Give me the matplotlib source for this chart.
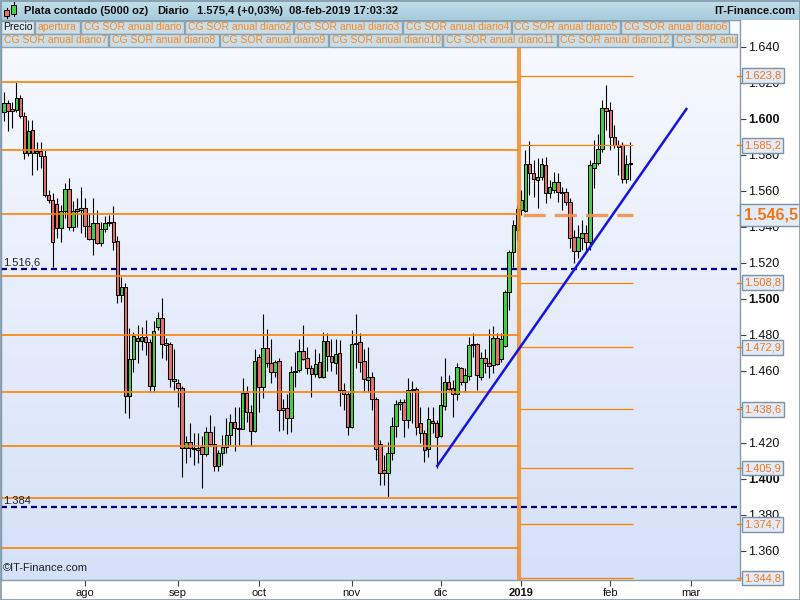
import numpy as np
import pandas as pd
import matplotlib
matplotlib.use("Agg")
import matplotlib.pyplot as plt
import matplotlib.transforms as mtrans
from matplotlib.patches import Rectangle
from matplotlib.colors import LinearSegmentedColormap

plt.rcParams['font.family'] = ['Liberation Sans', 'DejaVu Sans']
plt.rcParams['lines.scale_dashes'] = False

# ---------------- data ----------------
first_day = '2018-07-04'
holidays = ['2018-12-25', '2019-01-01']

opens = [1.6036, 1.6086, 1.6052, 1.6048, 1.6113, 1.6015, 1.5811, 1.5937, 1.5808, 1.5820,
         1.5793, 1.5576, 1.5548, 1.5524, 1.5391, 1.5487, 1.5608, 1.5397, 1.5498, 1.5493,
         1.5504, 1.5404, 1.5330, 1.5419, 1.5308, 1.5386, 1.5419, 1.5428, 1.5322, 1.5021,
         1.5063, 1.4459, 1.4663, 1.4782, 1.4767, 1.4787, 1.4761, 1.4517, 1.4844, 1.4893,
         1.4754, 1.4748, 1.4552, 1.4532, 1.4504, 1.4173, 1.4204, 1.4173, 1.4159, 1.4176,
         1.4136, 1.4258, 1.4191, 1.4072, 1.4141, 1.4175, 1.4241, 1.4313, 1.4283, 1.4274,
         1.4478, 1.4369, 1.4263, 1.4674, 1.4511, 1.4724, 1.4641, 1.4591, 1.4656, 1.4391,
         1.4391, 1.4336, 1.4591, 1.4604, 1.4711, 1.4669, 1.4617, 1.4582, 1.4647, 1.4563,
         1.4763, 1.4683, 1.4641, 1.4697, 1.4493, 1.4471, 1.4286, 1.4747, 1.4758, 1.4652,
         1.4548, 1.4567, 1.4441, 1.4191, 1.4048, 1.4030, 1.4141, 1.4293, 1.4413, 1.4428,
         1.4326, 1.4493, 1.4497, 1.4308, 1.4252, 1.4163, 1.4322, 1.4311, 1.4239, 1.4404,
         1.4535, 1.4502, 1.4471, 1.4613, 1.4535, 1.4572, 1.4743, 1.4747, 1.4567, 1.4669,
         1.4641, 1.4632, 1.4783, 1.4663, 1.4739, 1.5039, 1.5259, 1.5382, 1.5493, 1.5489,
         1.5747, 1.5697, 1.5659, 1.5678, 1.5741, 1.5586, 1.5604, 1.5650, 1.5593, 1.5591,
         1.5539, 1.5341, 1.5267, 1.5336, 1.5367, 1.5317, 1.5724, 1.5752, 1.5830, 1.6058,
         1.6048, 1.5900, 1.5854, 1.5854, 1.5663, 1.5750]
highs = [1.6150, 1.6104, 1.6094, 1.6204, 1.6132, 1.6039, 1.5993, 1.5993, 1.5872, 1.5870,
         1.5826, 1.5604, 1.5587, 1.5559, 1.5521, 1.5643, 1.5669, 1.5543, 1.5559, 1.5621,
         1.5559, 1.5476, 1.5559, 1.5493, 1.5426, 1.5459, 1.5465, 1.5515, 1.5348, 1.5121,
         1.5087, 1.4837, 1.4817, 1.4854, 1.4843, 1.4882, 1.4776, 1.4878, 1.4928, 1.5002,
         1.4782, 1.4759, 1.4720, 1.4554, 1.4515, 1.4237, 1.4311, 1.4254, 1.4256, 1.4237,
         1.4289, 1.4354, 1.4293, 1.4159, 1.4243, 1.4339, 1.4359, 1.4400, 1.4400, 1.4558,
         1.4517, 1.4409, 1.4719, 1.4693, 1.4915, 1.4830, 1.4774, 1.4659, 1.4670, 1.4441,
         1.4469, 1.4626, 1.4706, 1.4774, 1.4854, 1.4733, 1.4632, 1.4719, 1.4697, 1.4813,
         1.4808, 1.4774, 1.4774, 1.4771, 1.4530, 1.4482, 1.4826, 1.4915, 1.4808, 1.4719,
         1.4733, 1.4594, 1.4454, 1.4215, 1.4132, 1.4206, 1.4344, 1.4437, 1.4441, 1.4443,
         1.4558, 1.4544, 1.4509, 1.4400, 1.4271, 1.4397, 1.4400, 1.4326, 1.4570, 1.4669,
         1.4576, 1.4548, 1.4644, 1.4622, 1.4613, 1.4789, 1.4811, 1.4752, 1.4706, 1.4720,
         1.4830, 1.4848, 1.4808, 1.4808, 1.5048, 1.5271, 1.5437, 1.5521, 1.5604, 1.5826,
         1.5878, 1.5771, 1.5780, 1.5780, 1.5789, 1.5659, 1.5706, 1.5697, 1.5622, 1.5615,
         1.5559, 1.5382, 1.5409, 1.5437, 1.5409, 1.5771, 1.5882, 1.5913, 1.6104, 1.6187,
         1.6094, 1.5965, 1.5882, 1.5869, 1.5798, 1.5869]
lows = [1.5989, 1.5933, 1.5947, 1.6037, 1.6004, 1.5776, 1.5793, 1.5687, 1.5715, 1.5726,
        1.5565, 1.5532, 1.5178, 1.5337, 1.5317, 1.5448, 1.5382, 1.5376, 1.5398, 1.5365,
        1.5343, 1.5326, 1.5243, 1.5304, 1.5293, 1.5371, 1.5404, 1.5271, 1.4978, 1.4983,
        1.4363, 1.4337, 1.4594, 1.4643, 1.4715, 1.4687, 1.4483, 1.4483, 1.4826, 1.4670,
        1.4659, 1.4509, 1.4493, 1.4398, 1.4008, 1.4089, 1.4122, 1.4076, 1.4086, 1.3947,
        1.4126, 1.4182, 1.4043, 1.4044, 1.4076, 1.4141, 1.4187, 1.4156, 1.4187, 1.4274,
        1.4317, 1.4182, 1.4259, 1.4372, 1.4447, 1.4622, 1.4533, 1.4567, 1.4267, 1.4271,
        1.4247, 1.4261, 1.4511, 1.4594, 1.4659, 1.4582, 1.4456, 1.4563, 1.4558, 1.4559,
        1.4600, 1.4600, 1.4582, 1.4404, 1.4382, 1.4243, 1.4282, 1.4613, 1.4594, 1.4483,
        1.4483, 1.4382, 1.4104, 1.3965, 1.3965, 1.3900, 1.4104, 1.4233, 1.4382, 1.4233,
        1.4280, 1.4308, 1.4243, 1.4197, 1.4094, 1.4122, 1.4252, 1.4058, 1.4232, 1.4382,
        1.4493, 1.4344, 1.4437, 1.4521, 1.4483, 1.4548, 1.4678, 1.4493, 1.4548, 1.4586,
        1.4558, 1.4586, 1.4632, 1.4650, 1.4733, 1.4937, 1.5178, 1.5326, 1.5465, 1.5482,
        1.5576, 1.5567, 1.5502, 1.5659, 1.5530, 1.5558, 1.5586, 1.5539, 1.5493, 1.5521,
        1.5282, 1.5197, 1.5226, 1.5271, 1.5259, 1.5271, 1.5615, 1.5743, 1.5815, 1.5937,
        1.5826, 1.5837, 1.5687, 1.5644, 1.5644, 1.5659]
closes = [1.6086, 1.6043, 1.6044, 1.6113, 1.6015, 1.5811, 1.5933, 1.5808, 1.5822, 1.5793,
          1.5576, 1.5548, 1.5317, 1.5391, 1.5487, 1.5608, 1.5397, 1.5487, 1.5489, 1.5504,
          1.5404, 1.5330, 1.5419, 1.5308, 1.5386, 1.5419, 1.5428, 1.5317, 1.5021, 1.5063,
          1.4459, 1.4663, 1.4794, 1.4767, 1.4787, 1.4761, 1.4517, 1.4821, 1.4893, 1.4748,
          1.4743, 1.4552, 1.4544, 1.4504, 1.4173, 1.4204, 1.4171, 1.4167, 1.4171, 1.4136,
          1.4258, 1.4191, 1.4069, 1.4141, 1.4178, 1.4241, 1.4313, 1.4283, 1.4276, 1.4478,
          1.4369, 1.4263, 1.4654, 1.4508, 1.4724, 1.4641, 1.4591, 1.4647, 1.4382, 1.4382,
          1.4336, 1.4591, 1.4600, 1.4711, 1.4665, 1.4613, 1.4582, 1.4636, 1.4563, 1.4763,
          1.4683, 1.4647, 1.4691, 1.4493, 1.4471, 1.4286, 1.4747, 1.4752, 1.4647, 1.4552,
          1.4567, 1.4441, 1.4163, 1.4030, 1.4032, 1.4144, 1.4294, 1.4413, 1.4428, 1.4326,
          1.4493, 1.4497, 1.4286, 1.4252, 1.4159, 1.4330, 1.4308, 1.4230, 1.4408, 1.4535,
          1.4498, 1.4471, 1.4619, 1.4539, 1.4576, 1.4743, 1.4747, 1.4576, 1.4669, 1.4641,
          1.4626, 1.4783, 1.4637, 1.4774, 1.5039, 1.5259, 1.5409, 1.5497, 1.5548, 1.5747,
          1.5697, 1.5663, 1.5678, 1.5747, 1.5586, 1.5622, 1.5650, 1.5591, 1.5587, 1.5539,
          1.5336, 1.5267, 1.5341, 1.5367, 1.5317, 1.5743, 1.5752, 1.5830, 1.6058, 1.6044,
          1.5900, 1.5854, 1.5843, 1.5663, 1.5747, 1.5754]

levels_2018 = [1.6204, 1.5826, 1.5470, 1.5126, 1.4796, 1.4480, 1.4180, 1.3891, 1.3613]
levels_2019 = [1.6238, 1.5852, 1.5465, 1.5088, 1.4729, 1.4386, 1.4059, 1.3747, 1.3448]
labels_2019 = ['1.623,8', '1.585,2', '1.546,5', '1.508,8', '1.472,9',
               '1.438,6', '1.405,9', '1.374,7', '1.344,8']
apertura = 1.5465
support_levels = [1.5166, 1.3840]
support_labels = ['1.516,6', '1.384']
trend_dates = ['2018-11-30', '2019-02-28']
trend_values = [1.4065, 1.6059]
year_split = ('2018-12-31', '2019-01-02')
last_day = '2019-02-08'

month_labels = ['ago', 'sep', 'oct', 'nov', 'dic', '2019', 'feb', 'mar']
yticks = [1.360, 1.380, 1.400, 1.420, 1.440, 1.460, 1.480, 1.500,
          1.520, 1.540, 1.560, 1.580, 1.600, 1.620, 1.640]

header_parts = ['Plata contado (5000 oz)', 'Diario', '1.575,4 (+0,03%)', '08-feb-2019 17:03:32']
legend_row1 = ['Precio', 'apertura', 'CG SOR anual diario', 'CG SOR anual diario2',
               'CG SOR anual diario3', 'CG SOR anual diario4', 'CG SOR anual diario5',
               'CG SOR anual diario6']
legend_row2 = ['CG SOR anual diario7', 'CG SOR anual diario8', 'CG SOR anual diario9',
               'CG SOR anual diario10', 'CG SOR anual diario11', 'CG SOR anual diario12',
               'CG SOR anu']

# ---------------- trading-day axis ----------------
all_days = pd.bdate_range(first_day, '2019-03-29')
all_days = all_days[~all_days.isin(pd.to_datetime(holidays))]
n = len(opens)
xi = np.arange(n)


def pos(d):
    return int(all_days.get_loc(pd.Timestamp(d)))


months = all_days.month
month_idx = [i for i in range(1, len(all_days)) if months[i] != months[i - 1]]

o = np.array(opens); h = np.array(highs); l = np.array(lows); c = np.array(closes)
up = c >= o

# ---------------- figure ----------------
W, H = 800, 600
fig = plt.figure(figsize=(8, 6), dpi=100, facecolor='white')
ax = fig.add_axes([1 / W, 20 / H, 739 / W, 560 / H])

bg = LinearSegmentedColormap.from_list('bg', ['#F8FAFF', '#D5E1F8'])
ax.imshow(np.linspace(0, 1, 256).reshape(-1, 1), cmap=bg, aspect='auto',
          extent=(0, 1, 0, 1), transform=ax.transAxes, zorder=0, origin='upper')

# candles
ax.vlines(xi, l, h, color='black', lw=0.8, zorder=3)
ax.bar(xi[up], np.maximum((c - o)[up], 0.00025), bottom=o[up], width=0.88,
       color='#46D046', edgecolor='black', lw=0.75, zorder=4)
ax.bar(xi[~up], np.maximum((o - c)[~up], 0.00025), bottom=c[~up], width=0.88,
       color='#E8706A', edgecolor='black', lw=0.75, zorder=4)

split = (pos(year_split[0]) + pos(year_split[1])) / 2
x_left, x_right = -0.79, 182.1
x_end = pos(last_day) + 0.5

ax.hlines(levels_2018, x_left, split, color='#FF8000', lw=1.2, zorder=5)
solid_2019 = [v for v in levels_2019 if v != apertura]
for v in solid_2019:
    ax.plot([split, x_end], [v, v], color='#FF7F00', lw=0.9, zorder=5,
            snap=True, solid_capstyle='butt')
ax.plot([split + 1.0, x_end], [apertura, apertura], color='#F0924A', lw=2.4,
        dashes=(16, 6.5), zorder=6, solid_capstyle='butt', dash_capstyle='butt',
        alpha=0.9)
for v in support_levels:
    ax.axhline(v, color='#000080', lw=1.6, ls=(0, (4.3, 2.9)), zorder=6)
ax.axvline(split, color='#F28C28', lw=3.0, alpha=0.85, zorder=6)
ax.plot([pos(d) for d in trend_dates], trend_values, color='#1414E6', lw=1.8,
        zorder=7, solid_capstyle='butt')

trans = mtrans.blended_transform_factory(ax.transAxes, ax.transData)
for v, s in zip(support_levels, support_labels):
    ax.text(0.003, v + 0.0008, s, transform=trans, fontsize=8, color='#202020',
            va='bottom', ha='left', zorder=8)
ax.text(0.003, 0.012, '\u00a9IT-Finance.com', transform=ax.transAxes, fontsize=8,
        color='#202020', va='bottom', ha='left', zorder=8)

ax.set_xlim(x_left, x_right)
ax.set_ylim(1.3437, 1.6548)

# right axis
ax.yaxis.tick_right()
ax.set_yticks(yticks)
ax.set_yticklabels([f'{v:.3f}' for v in yticks])
for lab, v in zip(ax.get_yticklabels(), yticks):
    if round(v * 1000) % 100 == 0:
        lab.set_fontweight('bold')
        lab.set_fontsize(9.5)
ax.tick_params(axis='y', length=4, width=0.8, color='#404040', pad=2,
               labelsize=9, labelcolor='#111111')

# bottom axis
ax.set_xticks(month_idx[:len(month_labels)])
ax.set_xticklabels(month_labels)
for lab in ax.get_xticklabels():
    if lab.get_text().isdigit():
        lab.set_fontweight('bold')
        lab.set_fontsize(10)
ax.tick_params(axis='x', length=4, width=0.8, color='#404040', pad=2,
               labelsize=8, labelcolor='#111111')
for sp in ax.spines.values():
    sp.set_color('#8A9BA8')
    sp.set_linewidth(1)

# level labels in boxes on the right
for v, s in zip(levels_2019, labels_2019):
    big = (s == '1.546,5')
    ax.plot([0.996, 1.004], [v, v], transform=trans, color='#FF8000', lw=1,
            clip_on=False, zorder=9)
    ax.text(1.0 + 4 / 739, v, s, transform=trans, ha='left', va='center',
            fontsize=11.5 if big else 8, fontweight='bold' if big else 'normal',
            color='#F07818', clip_on=False, zorder=10,
            bbox=dict(boxstyle='square,pad=0.22', fc='#E4EBF8', ec='#7A92A2', lw=1))

# ---------------- header & legend overlay ----------------
ov = fig.add_axes([0, 0, 1, 1], zorder=10)
ov.patch.set_alpha(0)
hdr = LinearSegmentedColormap.from_list('hdr', ['#C3DFEB', '#A7CBDC'])
ov.imshow(np.linspace(0, 1, 32).reshape(-1, 1), cmap=hdr, aspect='auto',
          extent=(0, W, 20, 0), zorder=1)
ov.set_xlim(0, W)
ov.set_ylim(H, 0)
ov.axis('off')

# header candle icon
ov.plot([6.5, 6.5], [8, 18], color='black', lw=0.8, zorder=3)
ov.add_patch(Rectangle((4, 10), 5, 6, fc='#E8706A', ec='black', lw=0.7, zorder=4))
ov.plot([13.5, 13.5], [2, 16], color='black', lw=0.8, zorder=3)
ov.add_patch(Rectangle((11, 5), 5, 9, fc='#46D046', ec='black', lw=0.7, zorder=4))

for x0, s in zip([24, 157, 197, 289], header_parts):
    ov.text(x0, 10.5, s, fontsize=8, fontweight='bold', va='center', ha='left',
            color='#111111', zorder=5)
ov.text(795, 10.5, 'IT-Finance.com', fontsize=8, fontweight='bold', va='center',
        ha='right', color='#111111', zorder=5)

row1_edges = [0, 34, 80, 184, 293, 402, 511, 620, 729]
row2_edges = [0, 108, 219, 328, 442, 557, 672, 737]
for edges, labels, y0 in [(row1_edges, legend_row1, 20.5), (row2_edges, legend_row2, 33.5)]:
    for i, s in enumerate(labels):
        a, b = edges[i], edges[i + 1]
        first = (s == 'Precio')
        ov.add_patch(Rectangle((a + 0.5, y0), b - a - 1, 13,
                               fc='#DCEAF2' if first else '#C9DEE9',
                               ec='#8AA2B2', lw=1, zorder=4))
        ov.text(a + 3.5, y0 + 6.8, s, fontsize=7.5, va='center', ha='left',
                color='#111111' if first else '#F7881F', zorder=5)

ov.add_patch(Rectangle((0.5, 0.5), W - 1, H - 1, fill=False, ec='#7F97A7', lw=1.2, zorder=6))

fig.savefig('out.png', dpi=100, facecolor='white')
